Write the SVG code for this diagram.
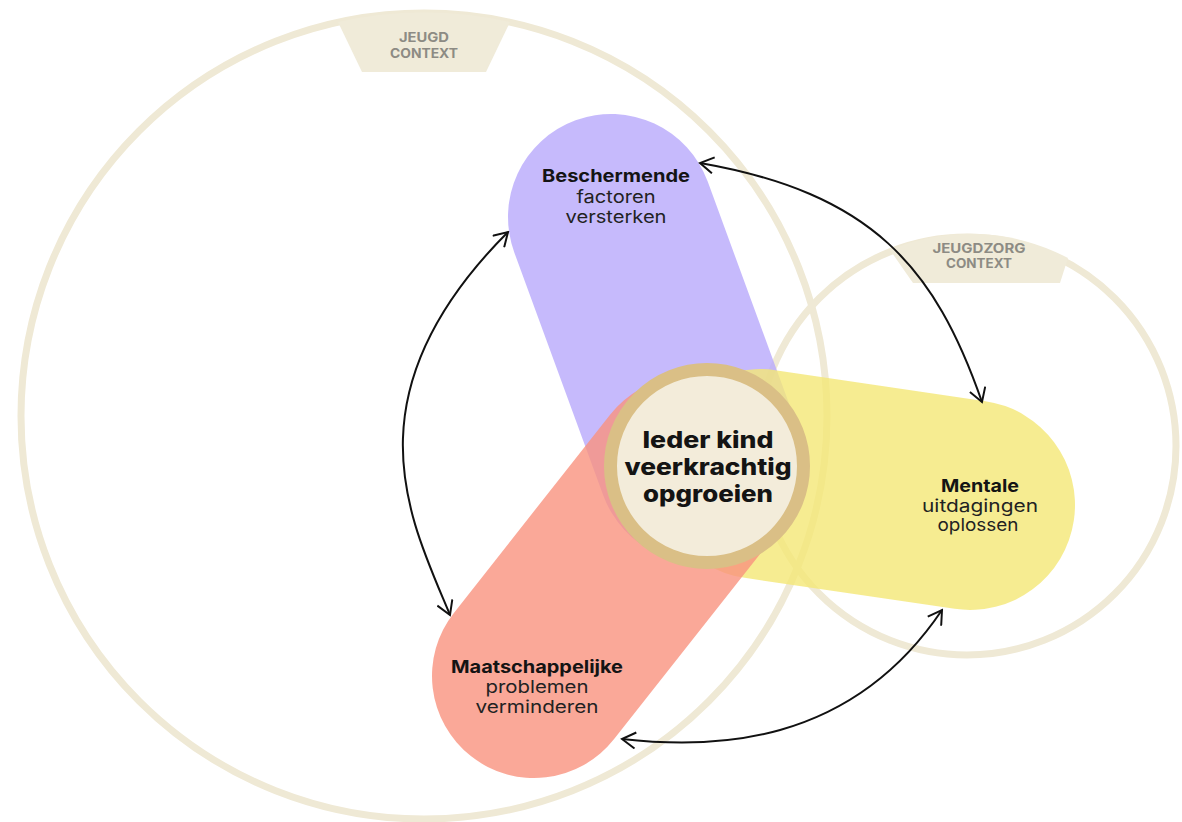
<svg xmlns="http://www.w3.org/2000/svg" width="1182" height="822" viewBox="0 0 1182 822">
  <style>
    .ring { fill: none; stroke: #efe9d5; stroke-width: 7; }
    .tab { fill: #f0ebd9; }
    .tabtxt { font-family: Inter, "Noto Sans", sans-serif; font-weight: 700; font-size: 13px; fill: #8d8b84; text-anchor: middle; }
    .pill { fill: none; stroke-linecap: round; stroke-opacity: 0.8; }
    .lbl { font-family: Inter, "Noto Sans", sans-serif; font-size: 17.5px; fill: #222222; text-anchor: middle; }
    .b { font-weight: 700; fill: #141414; }
    .ctr { font-family: Inter, "Noto Sans", sans-serif; font-weight: 800; font-size: 23px; fill: #141414; text-anchor: middle; }
    .conn { fill: none; stroke: #111; stroke-width: 2; }
  </style>
  <defs>
    <marker id="ah" viewBox="0 0 20 20" refX="18" refY="10" markerWidth="18" markerHeight="18" markerUnits="userSpaceOnUse" orient="auto-start-reverse">
      <path d="M3,1 L18,10 L3,19" fill="none" stroke="#111" stroke-width="2.2" stroke-linejoin="miter"/>
    </marker>
  </defs>
  <rect width="1182" height="822" fill="#ffffff"/>

  <g id="jeugd-context">
    <circle class="ring" cx="424" cy="416" r="403"/>
    <path class="tab" d="M338,22 A403,403 0 0 1 510,22 L486,72 L362,72 Z"/>
    <text class="tabtxt" x="424" y="42" textLength="50" lengthAdjust="spacingAndGlyphs">JEUGD</text>
    <text class="tabtxt" x="424" y="58" textLength="68" lengthAdjust="spacingAndGlyphs">CONTEXT</text>
  </g>

  <g id="jeugdzorg-context">
    <circle class="ring" cx="967" cy="446" r="209"/>
    <path class="tab" d="M890,250 A209,209 0 0 1 1068,258 L1060,283 L913,283 Z"/>
    <text class="tabtxt" x="979" y="253" textLength="93" lengthAdjust="spacingAndGlyphs">JEUGDZORG</text>
    <text class="tabtxt" x="979" y="268" textLength="66" lengthAdjust="spacingAndGlyphs">CONTEXT</text>
  </g>

  <g id="beschermende">
    <line class="pill" x1="611" y1="217" x2="700" y2="460" stroke="#b8a9fb" stroke-width="206"/>
  </g>
  <g id="mentale">
    <line class="pill" x1="760" y1="474" x2="970" y2="505" stroke="#f4e776" stroke-width="210"/>
  </g>
  <g id="maatschappelijke">
    <line class="pill" x1="534" y1="676" x2="690" y2="478" stroke="#f9927e" stroke-width="204"/>
  </g>

  <g id="center">
    <circle cx="707" cy="466" r="96.5" fill="#f3ecda" stroke="#dabf86" stroke-width="13"/>
    <text class="ctr" x="708" y="448" textLength="131" lengthAdjust="spacingAndGlyphs">Ieder kind</text>
    <text class="ctr" x="708" y="475" textLength="167" lengthAdjust="spacingAndGlyphs">veerkrachtig</text>
    <text class="ctr" x="708" y="502" textLength="130" lengthAdjust="spacingAndGlyphs">opgroeien</text>
  </g>

  <g id="labels">
    <text class="lbl b" x="616" y="182" textLength="148" lengthAdjust="spacingAndGlyphs">Beschermende</text>
    <text class="lbl" x="616" y="203" textLength="79" lengthAdjust="spacingAndGlyphs">factoren</text>
    <text class="lbl" x="616" y="223" textLength="101" lengthAdjust="spacingAndGlyphs">versterken</text>
    <text class="lbl b" x="980" y="492" textLength="78" lengthAdjust="spacingAndGlyphs">Mentale</text>
    <text class="lbl" x="980" y="512" textLength="116" lengthAdjust="spacingAndGlyphs">uitdagingen</text>
    <text class="lbl" x="978" y="531" textLength="81" lengthAdjust="spacingAndGlyphs">oplossen</text>
    <text class="lbl b" x="537" y="673" textLength="172" lengthAdjust="spacingAndGlyphs">Maatschappelijke</text>
    <text class="lbl" x="537" y="693" textLength="103" lengthAdjust="spacingAndGlyphs">problemen</text>
    <text class="lbl" x="537" y="713" textLength="123" lengthAdjust="spacingAndGlyphs">verminderen</text>
  </g>

  <g id="connectors">
    <path class="conn" d="M700,163 C872,193 935,267 982,402" marker-start="url(#ah)" marker-end="url(#ah)"/>
    <path class="conn" d="M508,232 C344,396 411,521 450,615" marker-start="url(#ah)" marker-end="url(#ah)"/>
    <path class="conn" d="M942,610 C849,748 710,749 622,739" marker-start="url(#ah)" marker-end="url(#ah)"/>
  </g>
</svg>
